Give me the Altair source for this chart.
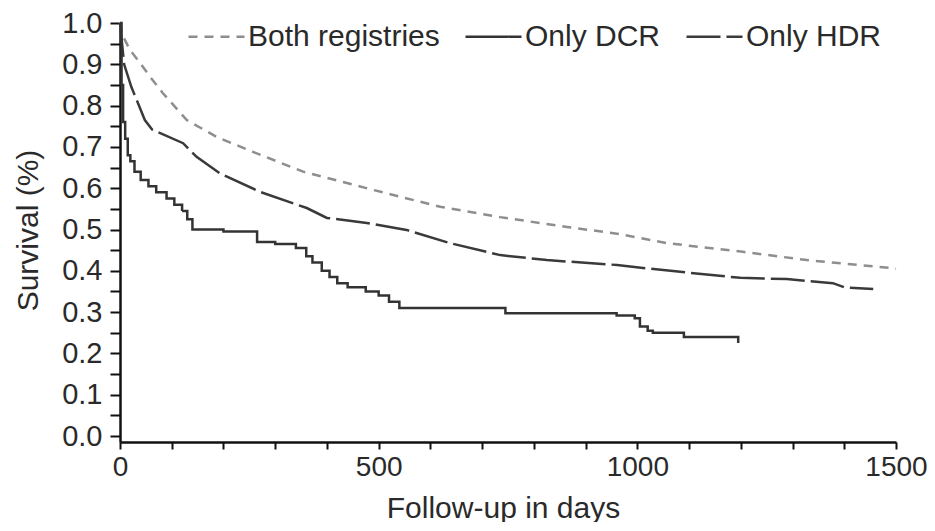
import altair as alt
import pandas as pd

series_names = ["Both registries", "Only DCR", "Only HDR"]

both_days = [0, 5, 19, 39, 58, 83, 129, 187, 257, 354, 489, 619, 735, 864, 961, 1057, 1204, 1328, 1489, 1500]
both_surv = [1.0, 0.97, 0.935, 0.903, 0.87, 0.83, 0.765, 0.724, 0.688, 0.64, 0.596, 0.555, 0.53, 0.506, 0.49, 0.467, 0.446, 0.426, 0.407, 0.405]

hdr_days = [0, 8, 22, 48, 62, 122, 148, 193, 271, 361, 400, 477, 554, 638, 735, 825, 961, 1011, 1102, 1199, 1289, 1378, 1400, 1456]
hdr_surv = [1.0, 0.9, 0.845, 0.765, 0.742, 0.709, 0.676, 0.636, 0.591, 0.552, 0.528, 0.516, 0.499, 0.467, 0.438, 0.426, 0.414, 0.407, 0.395, 0.383, 0.38, 0.37, 0.36, 0.356]

dcr_days = [0, 3, 6, 10, 15, 20, 28, 40, 55, 70, 90, 105, 120, 130, 140, 200, 265, 300, 340, 360, 372, 390, 405, 420, 440, 475, 500, 520, 540, 745, 960, 995, 1005, 1020, 1030, 1090, 1195]
dcr_surv = [1.0, 0.85, 0.76, 0.72, 0.68, 0.665, 0.64, 0.62, 0.605, 0.59, 0.575, 0.56, 0.545, 0.525, 0.50, 0.495, 0.47, 0.465, 0.455, 0.435, 0.42, 0.40, 0.385, 0.37, 0.36, 0.35, 0.34, 0.325, 0.31, 0.297, 0.292, 0.285, 0.265, 0.255, 0.25, 0.24, 0.225]

x_ticks = list(range(0, 1501, 100))
y_ticks = [round(i * 0.05, 2) for i in range(21)]

rows = []
for d, s in zip(both_days, both_surv):
    rows.append({"day": d, "surv": s, "series": series_names[0]})
for d, s in zip(dcr_days, dcr_surv):
    rows.append({"day": d, "surv": s, "series": series_names[1]})
for d, s in zip(hdr_days, hdr_surv):
    rows.append({"day": d, "surv": s, "series": series_names[2]})
df = pd.DataFrame(rows)

FONT = "Liberation Sans"
TXT = "#2a2a2a"

x_enc = alt.X(
    "day:Q",
    scale=alt.Scale(domain=[0, 1500], nice=False, zero=False),
    axis=alt.Axis(
        values=x_ticks,
        labelExpr="datum.value % 500 == 0 ? datum.value : ''",
        title="Follow-up in days",
        grid=False,
        tickSize=7,
        tickWidth=2,
        tickColor="#111",
        domainColor="#111",
        domainWidth=2.5,
        labelPadding=4,
        labelFontSize=28,
        labelFont=FONT,
        labelColor=TXT,
        labelFlush=False,
        titleFontSize=30,
        titleFont=FONT,
        titleFontWeight="normal",
        titleColor=TXT,
        titleX=383,
        titleY=75,
        titleBaseline="alphabetic",
        titleAlign="center",
    ),
)
y_enc = alt.Y(
    "surv:Q",
    scale=alt.Scale(domain=[-0.0145, 1.0], nice=False, zero=False),
    axis=alt.Axis(
        values=y_ticks,
        labelExpr="abs(datum.value * 10 - round(datum.value * 10)) < 0.01 ? format(datum.value, '.1f') : ''",
        title="Survival (%)",
        grid=False,
        tickSize=10,
        tickWidth=2,
        tickColor="#111",
        domainColor="#111",
        domainWidth=2.5,
        labelPadding=8,
        labelFontSize=29,
        labelFont=FONT,
        labelColor=TXT,
        labelFlush=False,
        titleFontSize=30,
        titleFont=FONT,
        titleFontWeight="normal",
        titleColor=TXT,
        titleAngle=-90,
        titleX=-92,
        titleY=207,
        titleAlign="center",
        titleBaseline="middle",
    ),
)

legend_kw = dict(
    title=None,
    orient="none",
    legendX=67,
    legendY=-16,
    direction="horizontal",
    symbolType="stroke",
    symbolSize=3136,
    symbolStrokeWidth=2.5,
    labelFontSize=30,
    labelFont=FONT,
    labelColor=TXT,
    labelLimit=400,
    labelOffset=2,
    columnPadding=20,
    padding=0,
)

color_enc = alt.Color(
    "series:N",
    scale=alt.Scale(domain=series_names, range=["#8e8e8e", "#333333", "#3a3a3a"]),
    legend=alt.Legend(**legend_kw),
)
dash_enc = alt.StrokeDash(
    "series:N",
    scale=alt.Scale(domain=series_names, range=[[9, 7], [1, 0], [34, 6]]),
    legend=alt.Legend(**legend_kw),
)

base = alt.Chart(df).encode(x=x_enc, y=y_enc, color=color_enc, strokeDash=dash_enc)

smooth = base.transform_filter(alt.datum.series != "Only DCR").mark_line(strokeWidth=2.5)
steps = base.transform_filter(alt.datum.series == "Only DCR").mark_line(strokeWidth=2.5, interpolate="step-after")

chart = (
    alt.layer(smooth, steps)
    .properties(
        width=776,
        height=419,
        autosize=alt.AutoSizeParams(type="none"),
        padding={"left": 112, "top": 15, "right": 31, "bottom": 80},
        background="white",
    )
    .configure_view(stroke=None)
)

chart.save("out.html", embed_options={"renderer": "svg", "actions": False})
